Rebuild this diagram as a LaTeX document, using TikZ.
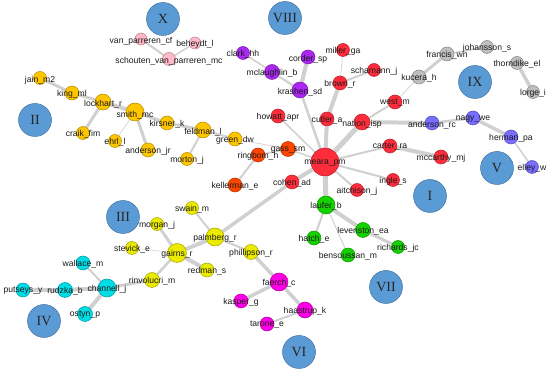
\documentclass[tikz,border=0pt]{standalone}
\usepackage{fontspec}
\newfontfamily\lblf{Liberation Sans}
\newfontfamily\romf{Liberation Serif}
\usetikzlibrary{backgrounds}
\definecolor{clblue}{RGB}{91,155,213}
\definecolor{cpink}{RGB}{255,185,200}
\definecolor{cgold}{RGB}{255,198,0}
\definecolor{cred}{RGB}{255,45,60}
\definecolor{corg}{RGB}{255,70,0}
\definecolor{cpurp}{RGB}{170,40,240}
\definecolor{cgray}{RGB}{190,190,190}
\definecolor{cviol}{RGB}{120,110,255}
\definecolor{cgreen}{RGB}{20,210,0}
\definecolor{cyel}{RGB}{235,235,0}
\definecolor{ccyan}{RGB}{0,220,230}
\definecolor{cmag}{RGB}{255,0,230}
\definecolor{edgegray}{RGB}{208,208,208}
\tikzset{
  vtx/.style={circle, draw=#1!70!black, fill=#1, line width=0.5pt, inner sep=0pt, minimum size=13pt},
  sz/.style={minimum size=#1},
  lbl/.style={font=\lblf\fontsize{8.6}{8.6}\selectfont, text=black!90, inner sep=0pt},
  cls/.style={circle, fill=clblue, draw=clblue!75!black, line width=0.5pt, minimum size=33pt, inner sep=0pt,
    font=\romf\fontsize{14}{14}\selectfont, text=black!85},
  lnk/.style={draw=edgegray, line width=#1},
}
\begin{document}
\begin{tikzpicture}[x=1pt,y=-1pt]
\useasboundingbox (0,0) rectangle (550,371);
% cluster markers
\node[cls] (cX) at (163,19) {X};
\node[cls] (cVIII) at (285,18) {VIII};
\node[cls] (cII) at (35,120) {II};
\node[cls] (cIX) at (475,82) {IX};
\node[cls] (cV) at (497,168) {V};
\node[cls] (cI) at (430,196) {I};
\node[cls] (cIII) at (123,217) {III};
\node[cls] (cVII) at (386,287) {VII};
\node[cls] (cIV) at (44,321) {IV};
\node[cls] (cVI) at (299,352) {VI};
% pink
\node[vtx=cpink,sz=12pt] (vpc) at (141,39) {};
\node[vtx=cpink] (svp) at (169,59) {};
\node[vtx=cpink,sz=12pt] (beh) at (195,43) {};
% gold
\node[vtx=cgold] (jain) at (40,78) {};
\node[vtx=cgold,sz=14pt] (king) at (72,93) {};
\node[vtx=cgold,sz=16pt] (lock) at (103,102) {};
\node[vtx=cgold,sz=18pt] (smith) at (135,112) {};
\node[vtx=cgold,sz=14pt] (kirs) at (167,123) {};
\node[vtx=cgold,sz=16pt] (feld) at (203,130) {};
\node[vtx=cgold,sz=14pt] (green) at (235,139) {};
\node[vtx=cgold] (mort) at (187,159) {};
\node[vtx=cgold,sz=14pt] (andjr) at (148,150) {};
\node[vtx=cgold] (ehrl) at (115,141) {};
\node[vtx=cgold] (craik) at (83,133) {};
% red
\node[vtx=cred,sz=28pt] (meara) at (325,162) {};
\node[vtx=cred,sz=14pt] (cutler) at (327,119) {};
\node[vtx=cred,sz=14pt] (brown) at (340,83) {};
\node[vtx=cred] (miller) at (343,50) {};
\node[vtx=cred] (scham) at (374,70) {};
\node[vtx=cred,sz=16pt] (nation) at (362,122) {};
\node[vtx=cred,sz=14pt] (west) at (395,102) {};
\node[vtx=cred,sz=14pt] (carter) at (390,146) {};
\node[vtx=cred,sz=14pt] (mccar) at (441,157) {};
\node[vtx=cred] (ingle) at (393,180) {};
\node[vtx=cred] (aitch) at (357,190) {};
\node[vtx=cred,sz=14pt] (cohen) at (292,182) {};
\node[vtx=cred,sz=14pt] (howatt) at (278,116) {};
% orange-red
\node[vtx=corg,sz=15pt] (gass) at (288,149) {};
\node[vtx=corg,sz=14pt] (ring) at (258,155) {};
\node[vtx=corg,sz=14pt] (kell) at (235,185) {};
% purple
\node[vtx=cpurp,sz=16pt] (krash) at (300,90) {};
\node[vtx=cpurp,sz=14pt] (corder) at (308,57) {};
\node[vtx=cpurp,sz=15pt] (mcl) at (272,72) {};
\node[vtx=cpurp] (clark) at (243,53) {};
% gray
\node[vtx=cgray,sz=14pt] (kucera) at (419,77) {};
\node[vtx=cgray,sz=14pt] (francis) at (447,54) {};
\node[vtx=cgray] (joh) at (487,47) {};
\node[vtx=cgray] (thorn) at (517,63) {};
\node[vtx=cgray] (lorge) at (533,92) {};
% violet
\node[vtx=cviol,sz=14pt] (andrc) at (432,123) {};
\node[vtx=cviol,sz=14pt] (nagy) at (473,118) {};
\node[vtx=cviol,sz=14pt] (herman) at (511,137) {};
\node[vtx=cviol] (elley) at (532,167) {};
% green
\node[vtx=cgreen,sz=18pt] (laufer) at (326,205) {};
\node[vtx=cgreen,sz=14pt] (hatch) at (314,238) {};
\node[vtx=cgreen,sz=15pt] (leven) at (363,230) {};
\node[vtx=cgreen] (rich) at (398,247) {};
\node[vtx=cgreen,sz=14pt] (bens) at (348,255) {};
% yellow
\node[vtx=cyel,sz=18pt] (palm) at (215,237) {};
\node[vtx=cyel,sz=19pt] (gairns) at (177,253) {};
\node[vtx=cyel] (swain) at (192,208) {};
\node[vtx=cyel] (morgan) at (157,224) {};
\node[vtx=cyel,sz=15pt] (phil) at (251,252) {};
\node[vtx=cyel,sz=14pt] (redman) at (207,270) {};
\node[vtx=cyel,sz=15pt] (rinv) at (152,280) {};
\node[vtx=cyel] (stevick) at (132,248) {};
% cyan
\node[vtx=ccyan,sz=18pt] (chan) at (107,288) {};
\node[vtx=ccyan,sz=14pt] (wall) at (83,263) {};
\node[vtx=ccyan,sz=15pt] (rudz) at (65,290) {};
\node[vtx=ccyan,sz=14pt] (puts) at (23,290) {};
\node[vtx=ccyan,sz=15pt] (osk) at (85,314) {};
% magenta
\node[vtx=cmag,sz=18pt] (faerch) at (279,282) {};
\node[vtx=cmag,sz=14pt] (kasper) at (241,301) {};
\node[vtx=cmag,sz=16pt] (haas) at (305,310) {};
\node[vtx=cmag,sz=14pt] (tarone) at (267,324) {};
% edges
\begin{scope}[on background layer]
\draw[lnk=2pt] (vpc) -- (svp);
\draw[lnk=1.5pt] (svp) -- (beh);
\draw[lnk=3pt] (jain) -- (king);
\draw[lnk=3pt] (king) -- (lock);
\draw[lnk=4pt] (lock) -- (smith);
\draw[lnk=3pt] (lock) -- (craik);
\draw[lnk=0.6pt] (smith) -- (ehrl);
\draw[lnk=3pt] (smith) -- (andjr);
\draw[lnk=3pt] (smith) -- (kirs);
\draw[lnk=3pt] (kirs) -- (feld);
\draw[lnk=2pt] (feld) -- (green);
\draw[lnk=2pt] (feld) -- (mort);
\draw[lnk=0.7pt] (green) -- (gass);
\draw[lnk=1.5pt] (clark) -- (mcl);
\draw[lnk=2pt] (mcl) -- (krash);
\draw[lnk=4pt] (krash) -- (corder);
\draw[lnk=2.5pt] (krash) -- (meara);
\draw[lnk=4pt] (meara) -- (cutler);
\draw[lnk=4pt] (cutler) -- (brown);
\draw[lnk=0.7pt] (brown) -- (miller);
\draw[lnk=2pt] (brown) -- (scham);
\draw[lnk=5pt] (meara) -- (nation);
\draw[lnk=2pt] (nation) -- (west);
\draw[lnk=0.7pt] (west) -- (kucera);
\draw[lnk=4pt] (nation) -- (andrc);
\draw[lnk=2.5pt] (andrc) -- (nagy);
\draw[lnk=3.5pt] (nagy) -- (herman);
\draw[lnk=1.5pt] (herman) -- (elley);
\draw[lnk=3pt] (kucera) -- (francis);
\draw[lnk=1.5pt] (francis) -- (joh);
\draw[lnk=3.5pt] (thorn) -- (lorge);
\draw[lnk=2pt] (meara) -- (carter);
\draw[lnk=4pt] (carter) -- (mccar);
\draw[lnk=2pt] (meara) -- (ingle);
\draw[lnk=2pt] (meara) -- (aitch);
\draw[lnk=1.5pt] (meara) -- (howatt);
\draw[lnk=1.5pt] (meara) -- (gass);
\draw[lnk=1.5pt] (gass) -- (ring);
\draw[lnk=2pt] (ring) -- (kell);
\draw[lnk=4pt] (meara) -- (cohen);
\draw[lnk=3.5pt] (cohen) -- (palm);
\draw[lnk=5pt] (meara) -- (laufer);
\draw[lnk=2pt] (laufer) -- (hatch);
\draw[lnk=4pt] (laufer) -- (leven);
\draw[lnk=3pt] (leven) -- (rich);
\draw[lnk=1pt] (laufer) -- (bens);
\draw[lnk=2pt] (palm) -- (swain);
\draw[lnk=4pt] (palm) -- (gairns);
\draw[lnk=2pt] (palm) -- (phil);
\draw[lnk=3.5pt] (phil) -- (faerch);
\draw[lnk=3pt] (gairns) -- (morgan);
\draw[lnk=0.5pt] (gairns) -- (stevick);
\draw[lnk=4pt] (gairns) -- (redman);
\draw[lnk=2.5pt] (gairns) -- (rinv);
\draw[lnk=3pt] (rinv) -- (chan);
\draw[lnk=2pt] (chan) -- (wall);
\draw[lnk=4pt] (chan) -- (rudz);
\draw[lnk=4pt] (rudz) -- (puts);
\draw[lnk=4pt] (chan) -- (osk);
\draw[lnk=3.5pt] (faerch) -- (kasper);
\draw[lnk=3.5pt] (faerch) -- (haas);
\draw[lnk=2pt] (haas) -- (tarone);
\end{scope}
% labels
\node[lbl] (vpc-l) at ([yshift=-2pt]vpc) {van\_parreren\_cf};
\node[lbl] (svp-l) at ([yshift=-2pt]svp) {schouten\_van\_parreren\_mc};
\node[lbl] (beh-l) at ([yshift=-1pt]beh) {beheydt\_l};
\node[lbl] (jain-l) at ([yshift=-2pt]jain) {jain\_m2};
\node[lbl] (king-l) at ([yshift=-1pt]king) {king\_ml};
\node[lbl] (lock-l) at ([yshift=-2pt]lock) {lockhart\_r};
\node[lbl] (smith-l) at ([yshift=-3pt]smith) {smith\_mc};
\node[lbl] (kirs-l) at ([yshift=-1pt]kirs) {kirsner\_k};
\node[lbl] (feld-l) at ([yshift=-2pt]feld) {feldman\_l};
\node[lbl] (green-l) at ([yshift=-1pt]green) {green\_dw};
\node[lbl] (mort-l) at ([yshift=-1pt]mort) {morton\_j};
\node[lbl] (andjr-l) at ([yshift=-1pt]andjr) {anderson\_jr};
\node[lbl] (ehrl-l) at ([yshift=-1pt]ehrl) {ehrl\_l};
\node[lbl] (craik-l) at ([yshift=-1pt]craik) {craik\_fim};
\node[lbl] (meara-l) at ([yshift=-1pt]meara) {meara\_pm};
\node[lbl] (cutler-l) at ([yshift=-1pt]cutler) {cutler\_a};
\node[lbl] (brown-l) at ([yshift=-1pt]brown) {brown\_r};
\node[lbl] (miller-l) at ([yshift=-1pt]miller) {miller\_ga};
\node[lbl] (scham-l) at ([yshift=-1pt]scham) {schamann\_j};
\node[lbl] (nation-l) at ([yshift=-2pt]nation) {nation\_isp};
\node[lbl] (west-l) at ([yshift=-1pt]west) {west\_m};
\node[lbl] (carter-l) at ([yshift=-1pt]carter) {carter\_ra};
\node[lbl] (mccar-l) at ([yshift=-1pt]mccar) {mccarthy\_mj};
\node[lbl] (ingle-l) at ([yshift=-1pt]ingle) {ingle\_s};
\node[lbl] (aitch-l) at ([yshift=-1pt]aitch) {aitchison\_j};
\node[lbl] (cohen-l) at ([yshift=-1pt]cohen) {cohen\_ad};
\node[lbl] (howatt-l) at ([yshift=-1pt]howatt) {howatt\_apr};
\node[lbl] (gass-l) at ([yshift=-1pt]gass) {gass\_sm};
\node[lbl] (ring-l) at ([yshift=-1pt]ring) {ringbom\_h};
\node[lbl] (kell-l) at ([yshift=-1pt]kell) {kellerman\_e};
\node[lbl] (krash-l) at ([yshift=-2pt]krash) {krashen\_sd};
\node[lbl] (corder-l) at ([yshift=-2pt]corder) {corder\_sp};
\node[lbl] (mcl-l) at ([yshift=-1pt]mcl) {mclaughlin\_b};
\node[lbl] (clark-l) at ([yshift=-1pt]clark) {clark\_hh};
\node[lbl] (kucera-l) at ([yshift=-1pt]kucera) {kucera\_h};
\node[lbl] (francis-l) at ([yshift=-1pt]francis) {francis\_wn};
\node[lbl] (joh-l) at ([yshift=-1pt]joh) {johansson\_s};
\node[lbl] (thorn-l) at ([yshift=-1pt]thorn) {thorndike\_el};
\node[lbl] (lorge-l) at ([yshift=-1pt]lorge) {lorge\_i};
\node[lbl] (andrc-l) at ([yshift=-2pt]andrc) {anderson\_rc};
\node[lbl] (nagy-l) at ([yshift=-1pt]nagy) {nagy\_we};
\node[lbl] (herman-l) at ([yshift=-1pt]herman) {herman\_pa};
\node[lbl] (elley-l) at ([yshift=-1pt]elley) {elley\_w};
\node[lbl] (laufer-l) at ([yshift=-1pt]laufer) {laufer\_b};
\node[lbl] (hatch-l) at ([yshift=-1pt]hatch) {hatch\_e};
\node[lbl] (leven-l) at ([yshift=-1pt]leven) {levenston\_ea};
\node[lbl] (rich-l) at ([yshift=-1pt]rich) {richards\_jc};
\node[lbl] (bens-l) at ([yshift=-1pt]bens) {bensoussan\_m};
\node[lbl] (palm-l) at ([yshift=-1pt]palm) {palmberg\_r};
\node[lbl] (gairns-l) at ([yshift=-1pt]gairns) {gairns\_r};
\node[lbl] (swain-l) at ([yshift=-1pt]swain) {swain\_m};
\node[lbl] (morgan-l) at ([yshift=-1pt]morgan) {morgan\_j};
\node[lbl] (phil-l) at ([yshift=-1pt]phil) {phillipson\_r};
\node[lbl] (redman-l) at ([yshift=-1pt]redman) {redman\_s};
\node[lbl] (rinv-l) at ([yshift=-1pt]rinv) {rinvolucri\_m};
\node[lbl] (stevick-l) at ([yshift=-1pt]stevick) {stevick\_e};
\node[lbl] (chan-l) at ([yshift=-1pt]chan) {channell\_j};
\node[lbl] (wall-l) at ([yshift=-1pt]wall) {wallace\_m};
\node[lbl] (rudz-l) at ([yshift=-1pt]rudz) {rudzka\_b};
\node[lbl] (puts-l) at ([yshift=-1pt]puts) {putseys\_y};
\node[lbl] (osk-l) at ([yshift=-1pt]osk) {ostyn\_p};
\node[lbl] (faerch-l) at ([yshift=-1pt]faerch) {faerch\_c};
\node[lbl] (kasper-l) at ([yshift=-1pt]kasper) {kasper\_g};
\node[lbl] (haas-l) at ([yshift=-1pt]haas) {haastrup\_k};
\node[lbl] (tarone-l) at ([yshift=-1pt]tarone) {tarone\_e};
\end{tikzpicture}
\end{document}
